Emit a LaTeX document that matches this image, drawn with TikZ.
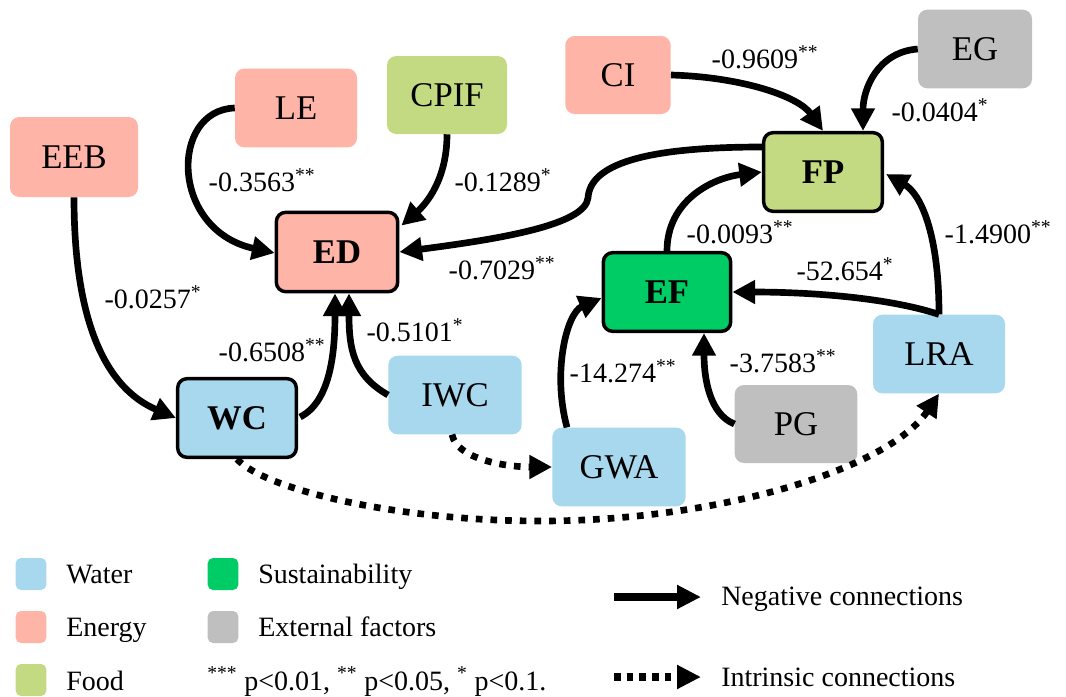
\documentclass[tikz,border=0pt]{standalone}
\usepackage{fontspec}
\setmainfont{Liberation Serif}
\usetikzlibrary{arrows.meta,calc}

\definecolor{energy}{RGB}{255,180,168}
\definecolor{food}{RGB}{196,218,130}
\definecolor{water}{RGB}{168,216,238}
\definecolor{extern}{RGB}{191,191,191}
\definecolor{sustain}{RGB}{0,204,102}

\newcommand{\sigstar}[1]{\textsuperscript{#1}}

\begin{document}
\begin{tikzpicture}[x=0.75pt,y=-0.75pt,
  box/.style={rounded corners=7pt, inner sep=0pt, font=\fontsize{26}{30}\selectfont},
  keybox/.style={box, draw=black, line width=2.6pt, font=\fontsize{26}{30}\selectfont\bfseries},
  lab/.style={inner sep=0pt, font=\fontsize{21}{24}\selectfont},
  legtext/.style={inner sep=0pt, anchor=base west, font=\fontsize{21}{24}\selectfont},
  swatch/.style={rounded corners=4pt, minimum width=23pt, minimum height=24pt, inner sep=0pt},
  neg/.style={line width=5pt, -{Triangle[length=17pt,width=17pt]}},
  intr/.style={line width=5pt, line cap=butt, dash pattern=on 5pt off 6pt, -{Triangle[length=17pt,width=17pt]}},
]
\useasboundingbox (0,0) rectangle (1066,696);

% ---- variables ----
\node[box, fill=energy, minimum width=96pt, minimum height=60pt] (EEB) at (74,157) {EEB};
\node[box, fill=energy, minimum width=91.5pt, minimum height=59pt] (LE) at (296,108) {LE};
\node[box, fill=food, minimum width=90pt, minimum height=58.5pt] (CPIF) at (447,95) {CPIF};
\node[keybox, fill=energy, minimum width=91pt, minimum height=59.5pt] (ED) at (337,252) {ED};
\node[box, fill=energy, minimum width=79pt, minimum height=58.5pt] (CI) at (618,75) {CI};
\node[box, fill=extern, minimum width=85.5pt, minimum height=59pt] (EG) at (975,49) {EG};
\node[keybox, fill=food, minimum width=89pt, minimum height=59pt] (FP) at (823,172) {FP};
\node[keybox, fill=sustain, minimum width=95.5pt, minimum height=59pt] (EF) at (667,292) {EF};
\node[keybox, fill=water, minimum width=89pt, minimum height=59pt] (WC) at (237,418) {WC};
\node[box, fill=water, minimum width=100pt, minimum height=59pt] (IWC) at (455,395) {IWC};
\node[box, fill=water, minimum width=100pt, minimum height=59pt] (GWA) at (619,467) {GWA};
\node[box, fill=extern, minimum width=92pt, minimum height=58.5pt] (PG) at (796,424) {PG};
\node[box, fill=water, minimum width=99pt, minimum height=59pt] (LRA) at (939,354) {LRA};

% ---- waypoints of the long curves ----
\coordinate (bend) at (588,198);
\coordinate (dip) at (540,521);

% ---- negative connections ----
\draw[neg] (EEB.south) .. controls +(0,125) and +(-70,-30) .. (WC.west);
\draw[neg] ($(WC.east)+(2,-1)$) .. controls +(30,-15) and +(0,60) .. ($(ED.south)+(-2,0)$);
\draw[neg] (IWC.west) .. controls +(-35,-20) and +(0,55) .. ($(ED.south)+(12,0)$);
\draw[neg] (LE.west) .. controls +(-65,2) and +(-105,-23) .. ($(ED.west)+(0,1)$);
\draw[neg] (CPIF.south) .. controls +(0,45) and +(25,-22) .. ($(ED.north east)+(2,15)$);
\draw[neg] ($(FP.west)+(0,-25)$) .. controls +(-120,0) and +(2,-33) .. (bend)
           .. controls +(-3,27) and +(100,-13) .. (ED.east);
\draw[neg] (CI.east) .. controls +(70,2) and +(-25,-35) .. (FP.north);
\draw[neg] (EG.west) .. controls +(-40,3) and +(0,-42) .. ($(FP.north)+(40,0)$);
\draw[neg] (EF.north) .. controls +(0,-50) and +(-50,6) .. (FP.west);
\draw[neg] (LRA.north) .. controls +(0,-80) and +(35,20) .. ($(FP.east)+(2,2)$);
\draw[neg] (LRA.north) .. controls +(-55,-18) and +(70,0) .. (EF.east);
\draw[neg] ($(GWA.north)+(-52,0)$) .. controls +(-15,-55) and +(-35,15) .. ($(EF.west)+(0,6)$);
\draw[neg] (PG.west) .. controls +(-25,-10) and +(0,45) .. ($(EF.south)+(37,0)$);

% ---- intrinsic connections ----
\draw[intr] ($(IWC.south)+(-3,0)$) .. controls +(5,25) and +(-45,0) .. (GWA.west);
\draw[intr] (WC.south) .. controls +(28,31) and +(-140,0) .. (dip)
            .. controls +(180,0) and +(-50,75) .. (LRA.south);

% ---- coefficients ----
\node[lab] (l1) at (153,297) {-0.0257\sigstar{*}};
\node[lab] (l2) at (272,350) {-0.6508\sigstar{**}};
\node[lab] (l3) at (415,330) {-0.5101\sigstar{*}};
\node[lab] (l4) at (262,180) {-0.3563\sigstar{**}};
\node[lab] (l5) at (503,180) {-0.1289\sigstar{*}};
\node[lab] (l6) at (502,268) {-0.7029\sigstar{**}};
\node[lab] (l7) at (765,57) {-0.9609\sigstar{**}};
\node[lab] (l8) at (940,110) {-0.0404\sigstar{*}};
\node[lab] (l9) at (740,232) {-0.0093\sigstar{**}};
\node[lab] (l10) at (998,232) {-1.4900\sigstar{**}};
\node[lab] (l11) at (845,269) {-52.654\sigstar{*}};
\node[lab] (l12) at (623,371) {-14.274\sigstar{**}};
\node[lab] (l13) at (783,361) {-3.7583\sigstar{**}};

% ---- legend ----
\node[swatch, fill=water] (kw) at (31,574) {};
\node[swatch, fill=energy] (ke) at (31,627) {};
\node[swatch, fill=food] (kf) at (31,680) {};
\node[swatch, fill=sustain] (ks) at (223,574) {};
\node[swatch, fill=extern] (kx) at (223,627) {};
\node[legtext] (tw) at (66,583) {Water};
\node[legtext] (te) at (66,636) {Energy};
\node[legtext] (tf) at (66,690) {Food};
\node[legtext] (ts) at (258,583) {Sustainability};
\node[legtext] (tx) at (258,636) {External factors};
\node[legtext] (tp) at (207,690) {\sigstar{***} p<0.01, \sigstar{**} p<0.05, \sigstar{*} p<0.1.};

\coordinate (na) at (614,597);
\coordinate (nb) at (701,597);
\coordinate (ia) at (614,677);
\coordinate (ib) at (701,677);
\draw[line width=6pt, -{Triangle[length=18pt,width=17pt]}] (na) -- (nb);
\draw[line width=5.5pt, line cap=butt, dash pattern=on 5pt off 4.5pt, -{Triangle[length=18pt,width=17pt]}] (ia) -- (ib);
\node[legtext] (tn) at (721,605) {Negative connections};
\node[legtext] (ti) at (721,686) {Intrinsic connections};
\end{tikzpicture}
\end{document}
